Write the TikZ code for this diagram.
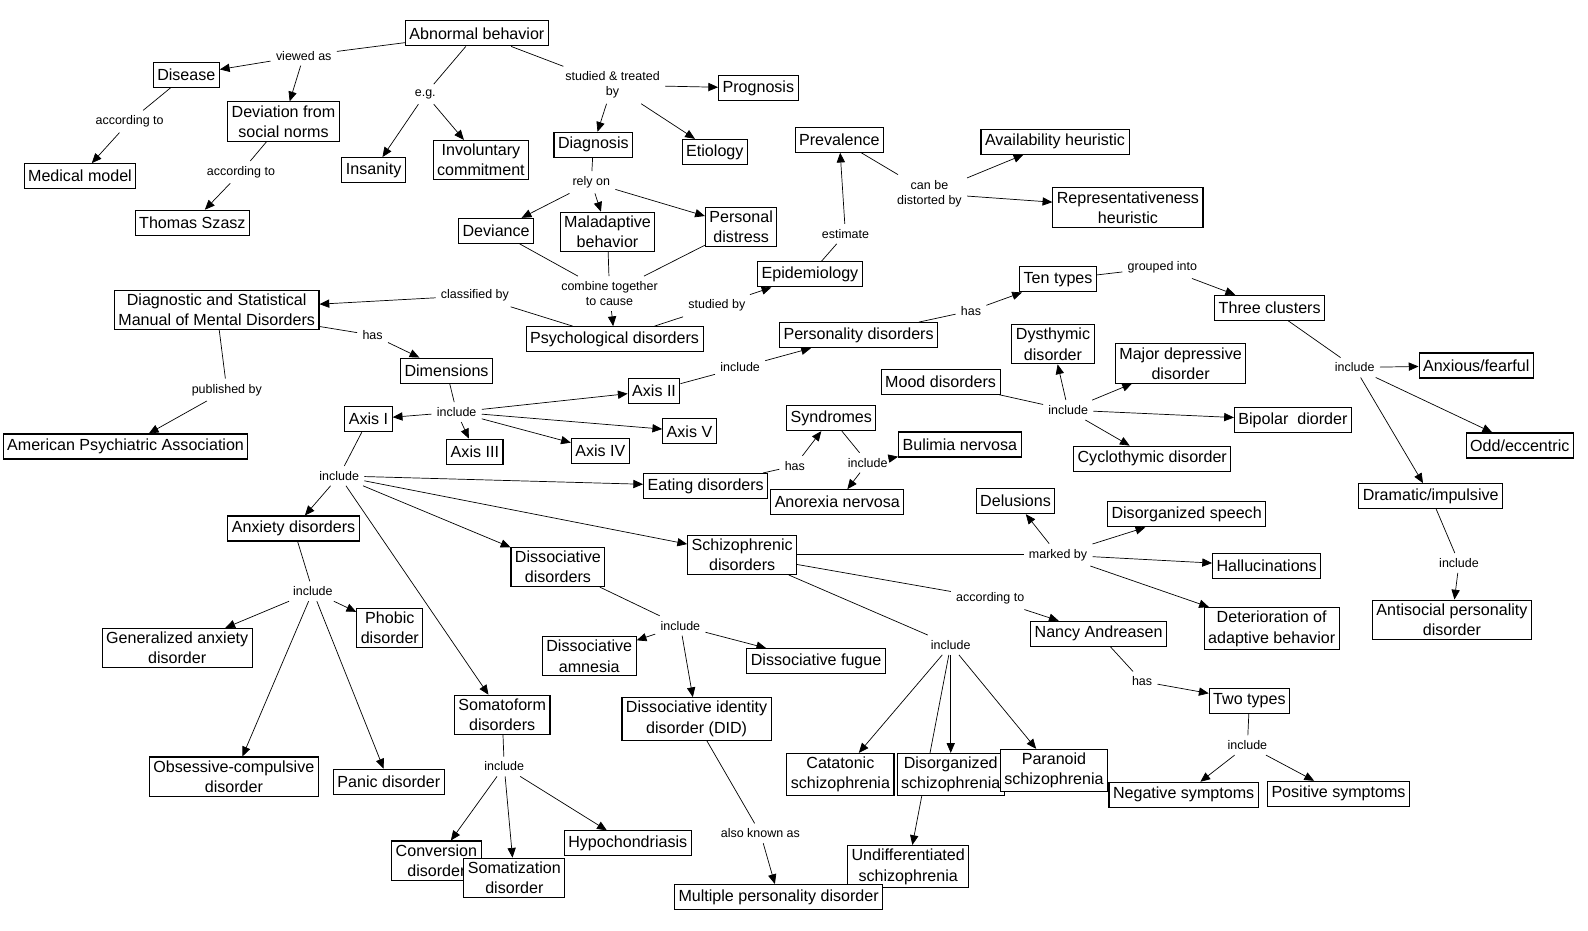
\documentclass[tikz,border=0pt]{standalone}
\usepackage{fontspec}
\setmainfont{Liberation Sans}
\usetikzlibrary{arrows.meta,backgrounds}

\begin{document}
\begin{tikzpicture}[x=0.02025cm,y=-0.02025cm,
    box/.style={draw,line width=0.6pt,fill=white,align=center,inner xsep=0.08cm,inner ysep=0.07cm,minimum height=0.5cm,font=\fontsize{9.15}{11.6}\selectfont},
    lbl/.style={align=center,inner sep=0.1cm,font=\fontsize{7.1}{8.6}\selectfont},
    arr/.style={-{Triangle[length=1.95mm,width=1.65mm]}}]

      \useasboundingbox (0,0) rectangle (1568.4,919.5);

      % concepts
      \node[box] (abn) at (471,33) {Abnormal behavior};
      \node[box] (disease) at (184,74) {Disease};
      \node[box] (deviation) at (280,120) {Deviation from\\social norms};
      \node[box] (medical) at (79,174) {Medical model};
      \node[box] (szasz) at (190,220) {Thomas Szasz};
      \node[box] (insanity) at (369,168) {Insanity};
      \node[box] (invol) at (475,158) {Involuntary\\commitment};
      \node[box] (prognosis) at (749,87) {Prognosis};
      \node[box] (diagnosis) at (586,143) {Diagnosis};
      \node[box] (etiology) at (706,150) {Etiology};
      \node[box] (deviance) at (490,228) {Deviance};
      \node[box] (maladapt) at (600,229) {Maladaptive\\behavior};
      \node[box] (distress) at (732,224) {Personal\\distress};
      \node[box] (psych) at (607,335) {Psychological disorders};
      \node[box] (dsm) at (214,306) {Diagnostic and Statistical\\Manual of Mental Disorders};
      \node[box] (dims) at (441,366) {Dimensions};
      \node[box] (apa) at (124,441) {American Psychiatric Association};
      \node[box] (axisi) at (364,414) {Axis I};
      \node[box] (axisii) at (646,386) {Axis II};
      \node[box] (axisiii) at (469,446) {Axis III};
      \node[box] (axisiv) at (593,445) {Axis IV};
      \node[box] (axisv) at (681,426) {Axis V};
      \node[box] (prev) at (829,138) {Prevalence};
      \node[box] (avail) at (1042,140) {Availability heuristic};
      \node[box] (repr) at (1114,205) {Representativeness\\heuristic};
      \node[box] (epid) at (800,271) {Epidemiology};
      \node[box] (tentypes) at (1045,276) {Ten types};
      \node[box] (clusters) at (1254,304) {Three clusters};
      \node[box] (pers) at (848,331) {Personality disorders};
      \node[box] (dysth) at (1040,340) {Dysthymic\\disorder};
      \node[box] (majdep) at (1166,359) {Major depressive\\disorder};
      \node[box] (mood) at (929,377) {Mood disorders};
      \node[box] (anxfear) at (1458,361) {Anxious/fearful};
      \node[box] (syndr) at (821,413) {Syndromes};
      \node[box] (bulim) at (948,439) {Bulimia nervosa};
      \node[box] (bipolar) at (1277,415) {Bipolar\ \ diorder};
      \node[box] (odd) at (1501,440) {Odd/eccentric};
      \node[box] (cyclo) at (1138,453) {Cyclothymic disorder};
      \node[box] (eating) at (697,480) {Eating disorders};
      \node[box] (anorex) at (827,496) {Anorexia nervosa};
      \node[box] (delus) at (1003,495) {Delusions};
      \node[box] (speech) at (1172,508) {Disorganized speech};
      \node[box] (dramatic) at (1413,490) {Dramatic/impulsive};
      \node[box] (anxiety) at (290,522) {Anxiety disorders};
      \node[box] (schizo) at (733,548) {Schizophrenic\\disorders};
      \node[box] (dissoc) at (551,560) {Dissociative\\disorders};
      \node[box] (halluc) at (1251,559) {Hallucinations};
      \node[box] (gad) at (175,640) {Generalized anxiety\\disorder};
      \node[box] (phobic) at (385,620) {Phobic\\disorder};
      \node[box] (amnesia) at (582,648) {Dissociative\\amnesia};
      \node[box] (fugue) at (806,653) {Dissociative fugue};
      \node[box] (deterior) at (1256,621) {Deterioration of\\adaptive behavior};
      \node[box] (nancy) at (1085,626) {Nancy Andreasen};
      \node[box] (antisoc) at (1434,612) {Antisocial personality\\disorder};
      \node[box] (somato) at (496,706) {Somatoform\\disorders};
      \node[box] (did) at (688,710) {Dissociative identity\\disorder (DID)};
      \node[box] (twotypes) at (1234,692) {Two types};
      \node[box] (ocd) at (231,767) {Obsessive-compulsive\\disorder};
      \node[box] (panic) at (384,772) {Panic disorder};
      \node[box] (catat) at (830,765) {Catatonic\\schizophrenia};
      \node[box] (disorg) at (939,765) {Disorganized\\schizophrenia};
      \node[box] (paran) at (1041,761) {Paranoid\\schizophrenia};
      \node[box] (negsym) at (1169,785) {Negative symptoms};
      \node[box] (possym) at (1322,784) {Positive symptoms};
      \node[box] (hypoch) at (620,833) {Hypochondriasis};
      \node[box] (convers) at (431,850) {Conversion\\disorder};
      \node[box] (somatiz) at (508,867) {Somatization\\disorder};
      \node[box] (undiff) at (897,856) {Undifferentiated\\schizophrenia};
      \node[box] (multiple) at (769,886) {Multiple personality disorder};

      % linking phrases
      \node[lbl] (lviewed) at (300,55) {viewed as};
      \node[lbl] (lacc1) at (128,120) {according to};
      \node[lbl] (lacc2) at (238,170) {according to};
      \node[lbl] (leg) at (420,93) {e.g.};
      \node[lbl] (lstudied) at (605,84) {studied \& treated\\by};
      \node[lbl] (lrely) at (584,180) {rely on};
      \node[lbl] (lcombine) at (602,290) {combine together\\to cause};
      \node[lbl] (lclass) at (469,292) {classified by};
      \node[lbl] (lstudby) at (708,302) {studied by};
      \node[lbl] (lestim) at (835,231) {estimate};
      \node[lbl] (ldistort) at (918,191) {can be\\distorted by};
      \node[lbl] (lhas1) at (368,331) {has};
      \node[lbl] (lpub) at (224,385) {published by};
      \node[lbl] (linc1) at (451,407) {include};
      \node[lbl] (linc2) at (731,363) {include};
      \node[lbl] (lhas2) at (959,307) {has};
      \node[lbl] (lgroup) at (1148,264) {grouped into};
      \node[lbl] (linc3) at (1338,363) {include};
      \node[lbl] (linc4) at (1441,556) {include};
      \node[lbl] (linc5) at (1055,405) {include};
      \node[lbl] (linc6) at (335,470) {include};
      \node[lbl] (lhas3) at (785,460) {has};
      \node[lbl] (linc7) at (857,457) {include};
      \node[lbl] (linc8) at (309,584) {include};
      \node[lbl] (linc9) at (672,618) {include};
      \node[lbl] (linc10) at (498,757) {include};
      \node[lbl] (laka) at (751,823) {also known as};
      \node[lbl] (lmarked) at (1045,548) {marked by};
      \node[lbl] (lacc3) at (978,591) {according to};
      \node[lbl] (linc11) at (939,637) {include};
      \node[lbl] (lhas4) at (1128,673) {has};
      \node[lbl] (linc12) at (1232,736) {include};

      \begin{scope}[on background layer,line width=0.5pt]
      \draw (abn) -- (lviewed);
      \draw[arr] (lviewed) -- (disease);
      \draw[arr] (lviewed) -- (deviation);
      \draw (disease) -- (lacc1);
      \draw[arr] (lacc1) -- (medical);
      \draw (deviation) -- (lacc2);
      \draw[arr] (lacc2) -- (szasz);
      \draw (abn) -- (leg);
      \draw[arr] (leg) -- (insanity);
      \draw[arr] (leg) -- (invol);
      \draw (abn) -- (lstudied);
      \draw[arr] (lstudied) -- (prognosis);
      \draw[arr] (lstudied) -- (diagnosis);
      \draw[arr] (lstudied) -- (etiology);
      \draw (diagnosis) -- (lrely);
      \draw[arr] (lrely) -- (deviance);
      \draw[arr] (lrely) -- (maladapt);
      \draw[arr] (lrely) -- (distress);
      \draw (deviance) -- (lcombine);
      \draw (maladapt) -- (lcombine);
      \draw (distress) -- (lcombine);
      \draw[arr] (lcombine) -- (psych);
      \draw (psych) -- (lclass);
      \draw[arr] (lclass) -- (dsm);
      \draw (psych) -- (lstudby);
      \draw[arr] (lstudby) -- (epid);
      \draw (epid) -- (lestim);
      \draw[arr] (lestim) -- (prev);
      \draw (prev) -- (ldistort);
      \draw[arr] (ldistort) -- (avail);
      \draw[arr] (ldistort) -- (repr);
      \draw (dsm) -- (lhas1);
      \draw[arr] (lhas1) -- (dims);
      \draw (dsm) -- (lpub);
      \draw[arr] (lpub) -- (apa);
      \draw (dims) -- (linc1);
      \draw[arr] (linc1) -- (axisi);
      \draw[arr] (linc1) -- (axisii);
      \draw[arr] (linc1) -- (axisiii);
      \draw[arr] (linc1) -- (axisiv);
      \draw[arr] (linc1) -- (axisv);
      \draw (axisii) -- (linc2);
      \draw[arr] (linc2) -- (pers);
      \draw (pers) -- (lhas2);
      \draw[arr] (lhas2) -- (tentypes);
      \draw (tentypes) -- (lgroup);
      \draw[arr] (lgroup) -- (clusters);
      \draw (clusters) -- (linc3);
      \draw[arr] (linc3) -- (anxfear);
      \draw[arr] (linc3) -- (odd);
      \draw[arr] (linc3) -- (dramatic);
      \draw (dramatic) -- (linc4);
      \draw[arr] (linc4) -- (antisoc);
      \draw (mood) -- (linc5);
      \draw[arr] (linc5) -- (dysth);
      \draw[arr] (linc5) -- (majdep);
      \draw[arr] (linc5) -- (bipolar);
      \draw[arr] (linc5) -- (cyclo);
      \draw (axisi) -- (linc6);
      \draw[arr] (linc6) -- (eating);
      \draw[arr] (linc6) -- (anxiety);
      \draw[arr] (linc6) -- (dissoc);
      \draw[arr] (linc6) -- (schizo);
      \draw[arr] (linc6) -- (somato);
      \draw (eating) -- (lhas3);
      \draw[arr] (lhas3) -- (syndr);
      \draw (syndr) -- (linc7);
      \draw[arr] (linc7) -- (bulim);
      \draw[arr] (linc7) -- (anorex);
      \draw (anxiety) -- (linc8);
      \draw[arr] (linc8) -- (gad);
      \draw[arr] (linc8) -- (phobic);
      \draw[arr] (linc8) -- (ocd);
      \draw[arr] (linc8) -- (panic);
      \draw (dissoc) -- (linc9);
      \draw[arr] (linc9) -- (amnesia);
      \draw[arr] (linc9) -- (fugue);
      \draw[arr] (linc9) -- (did);
      \draw (somato) -- (linc10);
      \draw[arr] (linc10) -- (convers);
      \draw[arr] (linc10) -- (somatiz);
      \draw[arr] (linc10) -- (hypoch);
      \draw (did.-65) -- (laka);
      \draw[arr] (laka) -- (multiple);
      \draw (schizo) -- (lmarked);
      \draw[arr] (lmarked) -- (delus);
      \draw[arr] (lmarked) -- (speech);
      \draw[arr] (lmarked) -- (halluc);
      \draw[arr] (lmarked) -- (deterior);
      \draw (schizo) -- (lacc3);
      \draw[arr] (lacc3) -- (nancy);
      \draw (schizo) -- (linc11);
      \draw[arr] (linc11) -- (catat);
      \draw[arr] (linc11) -- (disorg);
      \draw[arr] (linc11) -- (paran);
      \draw[arr] (linc11) -- (undiff);
      \draw (nancy) -- (lhas4);
      \draw[arr] (lhas4) -- (twotypes);
      \draw (twotypes) -- (linc12);
      \draw[arr] (linc12) -- (negsym);
      \draw[arr] (linc12) -- (possym);
      \end{scope}

\end{tikzpicture}
\end{document}
